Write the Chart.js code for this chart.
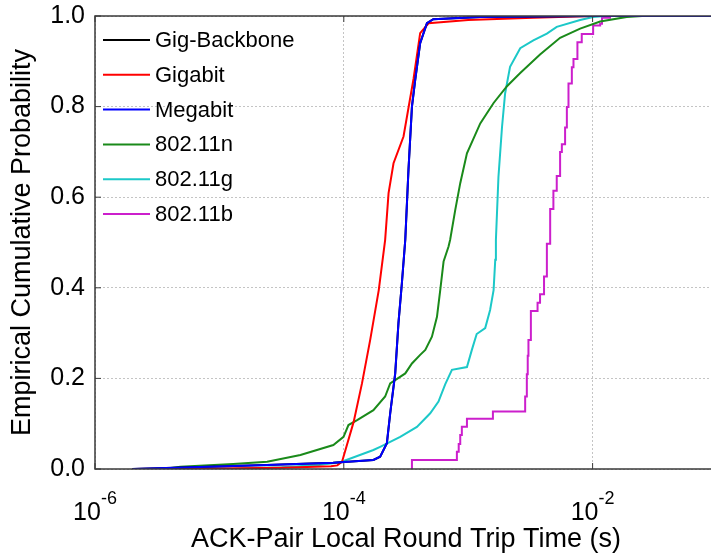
<!DOCTYPE html>
<html lang="en">
<head>
<meta charset="UTF-8">
<title>ACK-Pair Local Round Trip Time CDF</title>
<script src="https://cdn.jsdelivr.net/npm/chart.js"></script>
<style>
  html, body { margin: 0; padding: 0; background: #fff; overflow: hidden; }
  #wrap { width: 711px; height: 558px; overflow: hidden; }
</style>
</head>
<body>
<div id="wrap"><canvas id="cdfChart" width="718" height="558"></canvas></div>
<script>
// names and colours, in legend order
var seriesNames = ['Gig-Backbone', 'Gigabit', 'Megabit', '802.11n', '802.11g', '802.11b'];
var seriesColors = ['#000000', '#ff0000', '#0000ff', '#1a8a1a', '#1cc8c8', '#cc1fcc'];

// x = round trip time (s), y = cumulative probability
var gigBackboneT = [2.0e-6, 2.4e-5, 8.2e-5, 1.73e-4, 1.96e-4, 2.22e-4, 2.36e-4, 2.59e-4, 2.75e-4, 2.93e-4, 3.12e-4, 3.31e-4, 3.53e-4, 3.75e-4, 4.11e-4, 4.66e-4, 5.24e-4, 1.25e-3, 1.0e-2, 1.0e-1];
var gigBackboneP = [0, 0.009, 0.014, 0.02, 0.027, 0.057, 0.123, 0.211, 0.322, 0.41, 0.506, 0.66, 0.80, 0.859, 0.94, 0.984, 0.993, 0.998, 1, 1];

var gigabitT = [2.0e-6, 1.0e-5, 3.2e-5, 7.9e-5, 8.87e-5, 9.68e-5, 1.20e-4, 1.40e-4, 1.63e-4, 1.91e-4, 2.15e-4, 2.29e-4, 2.51e-4, 3.02e-4, 3.31e-4, 3.64e-4, 4.11e-4, 4.80e-4, 1.0e-3, 3.33e-3, 1.0e-2, 1.0e-1];
var gigabitP = [0, 0.001, 0.003, 0.006, 0.008, 0.016, 0.104, 0.189, 0.285, 0.395, 0.506, 0.609, 0.675, 0.734, 0.797, 0.862, 0.962, 0.984, 0.991, 0.996, 1, 1];

var megabitT = [2.0e-6, 2.42e-5, 8.24e-5, 1.73e-4, 1.96e-4, 2.22e-4, 2.36e-4, 2.59e-4, 2.75e-4, 2.93e-4, 3.12e-4, 3.31e-4, 3.53e-4, 3.75e-4, 4.11e-4, 4.66e-4, 5.24e-4, 1.25e-3, 1.0e-2, 1.0e-1];
var megabitP = [0, 0.009, 0.014, 0.02, 0.027, 0.057, 0.123, 0.211, 0.322, 0.41, 0.506, 0.66, 0.80, 0.859, 0.94, 0.984, 0.993, 0.998, 1, 1];

var n80211T = [3.55e-6, 4.86e-6, 1.29e-5, 2.42e-5, 4.48e-5, 8.24e-5, 9.95e-5, 1.09e-4, 1.28e-4, 1.73e-4, 2.15e-4, 2.36e-4, 3.12e-4, 3.53e-4, 4.11e-4, 4.52e-4, 5.11e-4, 5.61e-4, 5.96e-4, 6.34e-4, 6.95e-4, 7.16e-4, 7.87e-4, 8.63e-4, 9.77e-4, 1.25e-3, 1.60e-3, 2.05e-3, 2.62e-3, 3.78e-3, 5.48e-3, 7.94e-3, 1.15e-2, 1.88e-2, 2.5e-2, 1.0e-1];
var n80211P = [0, 0.005, 0.011, 0.016, 0.031, 0.053, 0.071, 0.097, 0.108, 0.130, 0.160, 0.189, 0.211, 0.233, 0.252, 0.263, 0.292, 0.336, 0.395, 0.458, 0.491, 0.506, 0.572, 0.631, 0.697, 0.763, 0.808, 0.845, 0.874, 0.915, 0.952, 0.972, 0.988, 0.998, 1, 1];

var g80211T = [1.0e-5, 3.16e-5, 6.31e-5, 9.38e-5, 1.73e-4, 1.96e-4, 2.84e-4, 3.87e-4, 4.95e-4, 5.77e-4, 6.53e-4, 7.40e-4, 9.77e-4, 1.07e-3, 1.17e-3, 1.37e-3, 1.50e-3, 1.60e-3, 1.65e-3, 1.67e-3, 1.75e-3, 1.87e-3, 1.98e-3, 2.17e-3, 2.62e-3, 3.34e-3, 4.29e-3, 5.15e-3, 7.94e-3, 1.01e-2, 1.26e-2, 1.0e-1];
var g80211P = [0, 0.004, 0.009, 0.015, 0.042, 0.049, 0.071, 0.093, 0.123, 0.149, 0.187, 0.219, 0.225, 0.263, 0.298, 0.311, 0.351, 0.395, 0.462, 0.506, 0.644, 0.755, 0.829, 0.888, 0.929, 0.946, 0.961, 0.976, 0.991, 0.998, 1, 1];

// 802.11b is a staircase: each point is where the step lands
var b80211T = [3.53e-4, 3.53e-4, 8.11e-4, 8.39e-4, 8.63e-4, 8.89e-4, 9.77e-4, 1.58e-3, 2.87e-3, 2.96e-3, 3.01e-3, 3.05e-3, 3.19e-3, 3.61e-3, 3.78e-3, 4.07e-3, 4.29e-3, 4.56e-3, 4.84e-3, 5.15e-3, 5.48e-3, 5.66e-3, 6.01e-3, 6.21e-3, 6.40e-3, 6.81e-3, 7.02e-3, 7.55e-3, 8.18e-3, 1.01e-2, 1.15e-2, 1.19e-2, 1.38e-2, 1.0e-1];
var b80211P = [0, 0.02, 0.038, 0.055, 0.075, 0.093, 0.111, 0.127, 0.16, 0.209, 0.25, 0.285, 0.349, 0.367, 0.386, 0.425, 0.497, 0.574, 0.614, 0.647, 0.70, 0.717, 0.754, 0.799, 0.851, 0.887, 0.905, 0.942, 0.96, 0.979, 0.983, 0.996, 1, 1];

// axis ticks
var xTickExps = [-6, -4, -2];
var yTicks = [0, 0.2, 0.4, 0.6, 0.8, 1.0];

var FONT = "'Liberation Sans', Arial, sans-serif";

function pts(t, p) {
    return t.map(function (v, i) { return { x: v, y: p[i] }; });
}

var allT = [gigBackboneT, gigabitT, megabitT, n80211T, g80211T, b80211T];
var allP = [gigBackboneP, gigabitP, megabitP, n80211P, g80211P, b80211P];
var drawOrder = [2, 3, 1, 4, 5, 6]; // lower = drawn on top

var datasets = seriesNames.map(function (name, i) {
    return {
        label: name,
        data: pts(allT[i], allP[i]),
        borderColor: seriesColors[i],
        borderWidth: 2,
        pointRadius: 0,
        fill: false,
        tension: 0,
        stepped: i === 5 ? 'before' : false,
        order: drawOrder[i]
    };
});

// box, inward tick marks, legend and 10^n tick labels
var decorPlugin = {
    id: 'decor',
    afterDatasetsDraw: function (chart) {
        var ctx = chart.ctx, a = chart.chartArea;
        var xs = chart.scales.x, ys = chart.scales.y;
        ctx.save();
        ctx.strokeStyle = '#3a3a3a';
        ctx.lineWidth = 1.5;
        ctx.beginPath();
        ctx.moveTo(a.right, a.top); ctx.lineTo(a.left, a.top);
        ctx.lineTo(a.left, a.bottom); ctx.lineTo(a.right, a.bottom);
        ctx.stroke();
        ctx.lineWidth = 1;
        ctx.beginPath();
        yTicks.forEach(function (v) {
            var y = ys.getPixelForValue(v);
            ctx.moveTo(a.left, y); ctx.lineTo(a.left + 6, y);
        });
        xTickExps.forEach(function (e) {
            var x = xs.getPixelForValue(Math.pow(10, e));
            ctx.moveTo(x, a.bottom); ctx.lineTo(x, a.bottom - 6);
            ctx.moveTo(x, a.top); ctx.lineTo(x, a.top + 6);
        });
        ctx.stroke();
        ctx.restore();
    },
    afterDraw: function (chart) {
        var ctx = chart.ctx, a = chart.chartArea, xs = chart.scales.x;
        ctx.save();
        ctx.fillStyle = '#000';
        ctx.textBaseline = 'alphabetic';
        xTickExps.forEach(function (e) {
            var x = xs.getPixelForValue(Math.pow(10, e));
            ctx.font = '25px ' + FONT;
            var base = '10', sup = String(e);
            var w1 = ctx.measureText(base).width;
            ctx.font = '18px ' + FONT;
            var w2 = ctx.measureText(sup).width;
            var x0 = x - (w1 + w2) / 2;
            ctx.font = '25px ' + FONT;
            ctx.fillText(base, x0, a.bottom + 51);
            ctx.font = '18px ' + FONT;
            ctx.fillText(sup, x0 + w1, a.bottom + 35);
        });
        // legend inside the axes, top left
        ctx.font = '22px ' + FONT;
        ctx.textBaseline = 'middle';
        chart.data.datasets.forEach(function (ds, i) {
            var y = a.top + 24 + i * 34.8;
            ctx.strokeStyle = ds.borderColor;
            ctx.lineWidth = 2;
            ctx.beginPath();
            ctx.moveTo(a.left + 8, y); ctx.lineTo(a.left + 55, y);
            ctx.stroke();
            ctx.fillText(ds.label, a.left + 60, y + 1);
        });
        ctx.restore();
    }
};

var config = {
    type: 'line',
    data: { datasets: datasets },
    options: {
        responsive: false,
        animation: false,
        layout: { padding: { top: 16, right: 1, left: 0, bottom: 0 } },
        plugins: { legend: { display: false }, tooltip: { enabled: false } },
        scales: {
            x: {
                type: 'logarithmic',
                min: 1e-6,
                max: 1e-1,
                afterBuildTicks: function (s) {
                    s.ticks = xTickExps.map(function (e) { return { value: Math.pow(10, e) }; });
                },
                afterFit: function (s) { s.height = 89; s.paddingLeft = 0; s.paddingRight = 0; },
                ticks: { display: false },
                grid: { color: '#c4c4c4', lineWidth: 1, drawTicks: false },
                border: { display: false, dash: [2, 2] },
                title: {
                    display: true,
                    text: 'ACK-Pair Local Round Trip Time (s)',
                    color: '#000',
                    font: { family: FONT, size: 27 },
                    padding: { top: 0, bottom: 2 }
                }
            },
            y: {
                min: 0,
                max: 1,
                afterBuildTicks: function (s) {
                    s.ticks = yTicks.map(function (v) { return { value: v }; });
                },
                afterFit: function (s) { s.width = 95; s.paddingTop = 0; s.paddingBottom = 0; },
                ticks: {
                    color: '#000',
                    font: { family: FONT, size: 25 },
                    padding: 10,
                    callback: function (v) { return v.toFixed(1); }
                },
                grid: { color: '#c4c4c4', lineWidth: 1, drawTicks: false },
                border: { display: false, dash: [2, 2] },
                title: {
                    display: true,
                    text: 'Empirical Cumulative Probability',
                    color: '#000',
                    font: { family: FONT, size: 27 },
                    padding: { top: 6, bottom: 0 }
                }
            }
        }
    },
    plugins: [decorPlugin]
};

var myChart = new Chart(document.getElementById('cdfChart'), config);
</script>
</body>
</html>
